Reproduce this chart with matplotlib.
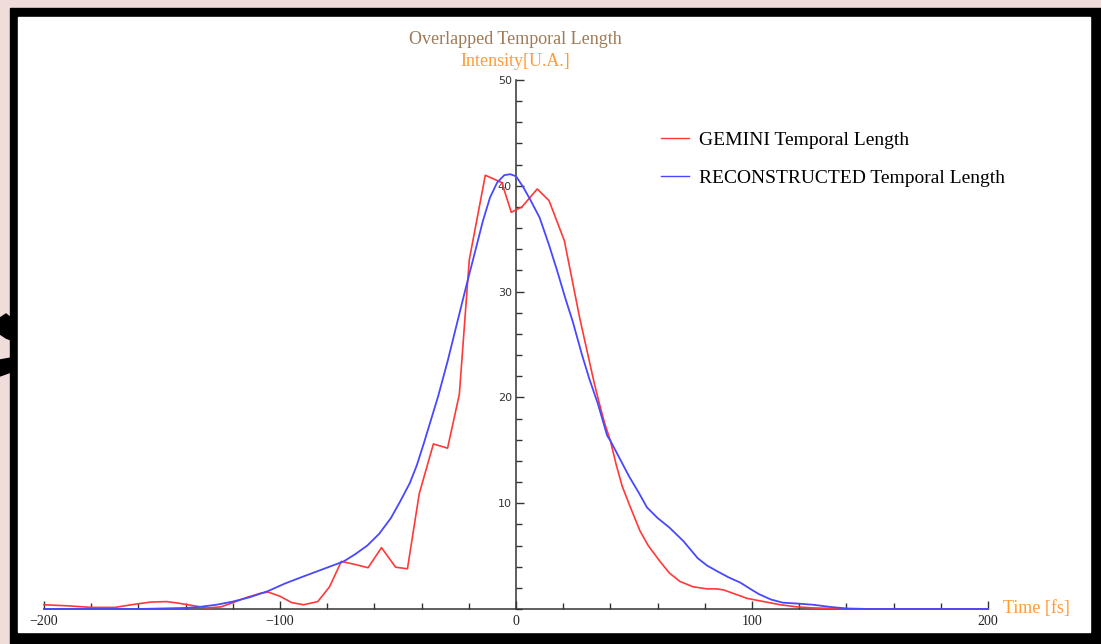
import matplotlib
matplotlib.use("Agg")
import matplotlib.pyplot as plt
from matplotlib.patches import Rectangle, Polygon
from matplotlib.ticker import MultipleLocator, FixedLocator

# GEMINI measured pulse (red), time in fs / intensity in arbitrary units
gem_t = [-200, -190, -180, -170, -163, -155, -148, -143, -139, -131, -125, -120, -114, -108,
         -105, -100, -95, -90, -84, -79, -74, -68, -62.7, -57, -51, -46, -41, -35, -29, -24,
         -19.8, -13, -6, -2, 2.5, 9, 14, 20.5, 27, 33, 35, 37.5, 40, 42.5, 45, 48.5, 52.5, 56,
         61, 65, 69.5, 75, 81, 85, 88, 93, 98, 105, 112, 119, 126, 135, 145, 200]
gem_i = [0.4, 0.3, 0.15, 0.15, 0.4, 0.65, 0.7, 0.55, 0.4, 0.1, 0.2, 0.6, 1.1, 1.5,
         1.6, 1.2, 0.6, 0.4, 0.7, 2.1, 4.5, 4.2, 3.9, 5.8, 3.95, 3.8, 10.9, 15.6, 15.2, 20.3,
         33.0, 41.0, 40.3, 37.5, 38.0, 39.7, 38.6, 34.8, 27.5, 21.5, 19.7, 17.6, 15.9, 13.6, 11.6,
         9.6, 7.4, 6.0, 4.5, 3.4, 2.6, 2.1, 1.9, 1.9, 1.8, 1.4, 1.0, 0.7, 0.4, 0.2, 0.1, 0.05, 0.0, 0.0]

# reconstructed pulse (blue)
rec_t = [-200, -180, -160, -150, -140, -134, -127, -120, -113, -105, -98, -91, -85, -79, -73,
         -68, -63, -58, -53, -49, -45, -42, -39, -36, -33, -29, -25, -21, -18, -14, -11, -8, -5,
         -2.5, 0, 3, 6, 10, 14, 17.4, 21, 24, 28, 31, 34.7, 38.6, 40, 44, 48, 52, 55.5, 60, 65,
         71, 77, 81, 85, 90, 95, 100, 103, 108, 113, 120, 126, 133, 140, 150, 170, 200]
rec_i = [0.0, 0.0, 0.0, 0.05, 0.1, 0.2, 0.4, 0.7, 1.1, 1.7, 2.4, 3.0, 3.5, 4.0, 4.5,
         5.2, 6.0, 7.1, 8.6, 10.2, 11.9, 13.6, 15.7, 17.9, 20.1, 23.4, 27.0, 30.6, 33.2, 36.7,
         38.9, 40.3, 41.0, 41.1, 40.9, 39.9, 38.7, 37.0, 34.4, 32.0, 29.3, 27.2, 24.0, 21.8,
         19.4, 16.4, 15.9, 14.2, 12.5, 11.0, 9.6, 8.6, 7.7, 6.4, 4.8, 4.1, 3.6, 3.0, 2.5, 1.8,
         1.4, 0.9, 0.6, 0.5, 0.4, 0.2, 0.05, 0.0, 0.0, 0.0]

x_ticks = [-200, -100, 0, 100, 200]
y_ticks = [10, 20, 30, 40, 50]
labels = ["GEMINI Temporal Length", "RECONSTRUCTED Temporal Length"]

W, H = 1101, 644
fig = plt.figure(figsize=(W / 100, H / 100), dpi=100)
fig.patch.set_facecolor("#f1dcdc")


def fx(x):
    return x / W


def fy(y):
    return 1 - y / H


def box(x0, y0, x1, y1):
    # pixel box (top-left origin) -> figure fraction rect
    return (fx(x0), fy(y1)), (x1 - x0) / W, (y1 - y0) / H


# bits of slide lettering peeking out at the left edge
for pts in ([(0, 318), (6, 314), (11, 318), (11, 340), (6, 338), (0, 334)],
            [(0, 360), (11, 358), (11, 372), (0, 376)]):
    fig.add_artist(Polygon([(fx(a), fy(b)) for a, b in pts], closed=True,
                           transform=fig.transFigure, color="black", zorder=0))
xy, w, h = box(10, 8, 1101, 644)
fig.add_artist(Rectangle(xy, w, h, transform=fig.transFigure, color="black", zorder=1))
xy, w, h = box(18, 17, 1090, 632)
fig.add_artist(Rectangle(xy, w, h, transform=fig.transFigure, color="white", zorder=1))

ax = fig.add_axes([44 / W, 1 - 609 / H, 944 / W, 529 / H], zorder=2)
ax.patch.set_alpha(0)
ax.plot(gem_t, gem_i, color="#ff3838", lw=1.2, label=labels[0], clip_on=False, zorder=3)
ax.plot(rec_t, rec_i, color="#4848ff", lw=1.3, label=labels[1], clip_on=False, zorder=3)
ax.set_xlim(-200, 200)
ax.set_ylim(0, 50)

for s in ["top", "right"]:
    ax.spines[s].set_visible(False)
ax.spines["left"].set_position(("data", 0))
for s in ["left", "bottom"]:
    ax.spines[s].set_color("#333333")
    ax.spines[s].set_linewidth(1.1)

ax.xaxis.set_major_locator(FixedLocator(x_ticks))
ax.xaxis.set_minor_locator(MultipleLocator(20))
ax.yaxis.set_major_locator(FixedLocator(y_ticks))
ax.yaxis.set_minor_locator(MultipleLocator(2))
ax.set_xticklabels(["\u2212200", "\u2212100", "0", "100", "200"])
ax.tick_params(which="both", direction="in", color="#333333", width=1.0)
ax.tick_params(which="major", length=5.5)
ax.tick_params(which="minor", length=4)
ax.tick_params(axis="x", labelsize=10, pad=4, labelcolor="#222222")
ax.tick_params(axis="y", labelsize=8, pad=3, labelcolor="#333333")
for t in ax.get_xticklabels():
    t.set_family("Liberation Serif")

fig.text(fx(515), fy(40), "Overlapped Temporal Length", color="#a07a55",
         family="Liberation Serif", fontsize=13, ha="center", va="center", zorder=3)
fig.text(fx(515), fy(61), "Intensity[U.A.]", color="#ff9a3a",
         family="Liberation Serif", fontsize=13, ha="center", va="center", zorder=3)
fig.text(fx(1003), fy(608), "Time [fs]", color="#ff9a3a",
         family="Liberation Serif", fontsize=13, ha="left", va="center", zorder=3)

leg = ax.legend(loc="upper left", bbox_to_anchor=(fx(643), fy(114)),
                bbox_transform=fig.transFigure, frameon=False, handlelength=1.45,
                handletextpad=0.55, labelspacing=1.05,
                prop={"family": "Liberation Serif", "size": 14})
for ln in leg.get_lines():
    ln.set_linewidth(1.0)

fig.savefig("out.png", dpi=100)
